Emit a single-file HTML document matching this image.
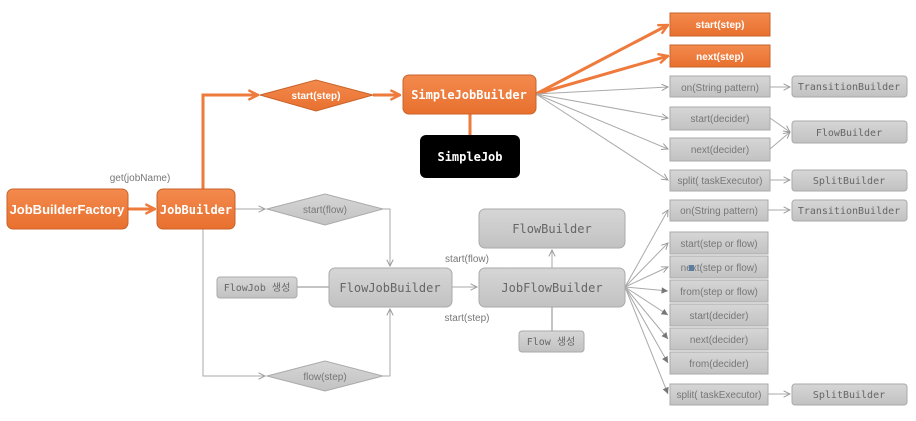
<!DOCTYPE html>
<html><head><meta charset="utf-8"><style>
body{margin:0;background:#fff;width:916px;height:416px;overflow:hidden}
text{font-family:"Liberation Sans","Noto Sans CJK KR",sans-serif}
.m{font-family:"DejaVu Sans Mono","Liberation Mono","Noto Sans CJK KR",monospace}
</style></head><body>
<svg width="916" height="416" viewBox="0 0 916 416" xmlns="http://www.w3.org/2000/svg">
<defs>
<linearGradient id="og" x1="0" y1="0" x2="0" y2="1"><stop offset="0" stop-color="#f38a4e"/><stop offset="1" stop-color="#e8702e"/></linearGradient>
<linearGradient id="gg" x1="0" y1="0" x2="0" y2="1"><stop offset="0" stop-color="#d6d6d6"/><stop offset="1" stop-color="#c2c2c2"/></linearGradient>
<marker id="oa" viewBox="0 0 10 10" refX="9" refY="5" markerWidth="4" markerHeight="4" orient="auto"><path d="M1,1L9,5L1,9" fill="none" stroke="#ee7a3c" stroke-width="2"/></marker>
<marker id="ga" viewBox="0 0 10 10" refX="9" refY="5" markerWidth="8" markerHeight="8" orient="auto" markerUnits="userSpaceOnUse"><path d="M1,1L9,5L1,9" fill="none" stroke="#999" stroke-width="1.2"/></marker>
<marker id="gf" viewBox="0 0 10 10" refX="9" refY="5" markerWidth="8" markerHeight="8" orient="auto" markerUnits="userSpaceOnUse"><path d="M1,1L9,5L1,9z" fill="#777"/></marker>
</defs>
<g stroke="#ee7a3c" stroke-width="3" fill="none">
<path d="M128,209H155" marker-end="url(#oa)"/>
<path d="M203,189V95H258" marker-end="url(#oa)"/>
<path d="M373,95H400" marker-end="url(#oa)"/>
<path d="M470,114V135"/>
<path d="M536,94L668,25" marker-end="url(#oa)"/>
<path d="M536,94L668,56" marker-end="url(#oa)"/>
</g>
<g stroke="#aaa" stroke-width="1" fill="none">
<path d="M536,94L668,87" marker-end="url(#ga)"/>
<path d="M536,94L668,118" marker-end="url(#ga)"/>
<path d="M536,94L668,149" marker-end="url(#ga)"/>
<path d="M536,94L668,180" marker-end="url(#ga)"/>
<path d="M770,87H790" marker-end="url(#ga)"/>
<path d="M770,118L790,132" marker-end="url(#ga)"/>
<path d="M770,149L790,132" marker-end="url(#ga)"/>
<path d="M770,180H790" marker-end="url(#ga)"/>
<path d="M235,209H265" marker-end="url(#ga)"/>
<path d="M383,209H390V266" marker-end="url(#ga)"/>
<path d="M203,229V376H265" marker-end="url(#ga)"/>
<path d="M383,376H390V309" marker-end="url(#ga)"/>
<path d="M297,287H329" stroke="#888"/>
<path d="M452,287H477" marker-end="url(#ga)"/>
<path d="M552,268V250" marker-end="url(#ga)"/>
<path d="M552,331V307" stroke="#888"/>
<path d="M625,287L668,210" marker-end="url(#ga)"/>
<path d="M625,287L668,243" marker-end="url(#ga)"/>
<path d="M625,287L668,267" marker-end="url(#ga)"/>
<path d="M625,287L668,291" marker-end="url(#gf)"/>
<path d="M625,287L668,315" marker-end="url(#gf)"/>
<path d="M625,287L668,339" marker-end="url(#gf)"/>
<path d="M625,287L668,363" marker-end="url(#gf)"/>
<path d="M625,287L668,394" marker-end="url(#gf)"/>
<path d="M768,210H790" marker-end="url(#ga)"/>
<path d="M768,394H790" marker-end="url(#ga)"/>
</g>
<!-- orange boxes -->
<g stroke="#c9632a" stroke-width="1" fill="url(#og)">
<rect x="7" y="189" width="121" height="40" rx="6"/>
<rect x="157" y="189" width="78" height="40" rx="6"/>
<rect x="403" y="75" width="133" height="39" rx="6"/>
<rect x="670" y="13" width="100" height="23"/>
<rect x="670" y="45" width="100" height="22"/>
<polygon points="260,95 316,80 373,95 316,111"/>
</g>
<rect x="420" y="135" width="100" height="43" rx="6" fill="#000"/>
<g fill="#fff" font-weight="bold" text-anchor="middle">
<text x="67" y="214" font-size="13">JobBuilderFactory</text>
<text x="196" y="214" font-size="12" class="m">JobBuilder</text>
<text x="469" y="99" font-size="12" class="m">SimpleJobBuilder</text>
<text x="470" y="161" font-size="12" class="m">SimpleJob</text>
<text x="316" y="99" font-size="10">start(step)</text>
<text x="720" y="28" font-size="10">start(step)</text>
<text x="720" y="60" font-size="10">next(step)</text>
</g>
<!-- gray -->
<g stroke="#aaa" stroke-width="1" fill="url(#gg)">
<polygon points="267,209 325,194 383,209 325,225"/>
<polygon points="267,376 325,361 383,376 325,391"/>
<rect x="217" y="277" width="80" height="21" rx="3"/>
<rect x="329" y="268" width="123" height="39" rx="6"/>
<rect x="479" y="268" width="146" height="39" rx="6"/>
<rect x="479" y="209" width="146" height="39" rx="6"/>
<rect x="519" y="331" width="65" height="21" rx="3"/>
<rect x="670" y="76" width="100" height="21"/>
<rect x="670" y="107" width="100" height="23"/>
<rect x="670" y="138" width="100" height="23"/>
<rect x="670" y="170" width="100" height="21"/>
<rect x="792" y="76" width="115" height="21" rx="3"/>
<rect x="792" y="121" width="115" height="22" rx="3"/>
<rect x="792" y="170" width="115" height="21" rx="3"/>
<rect x="670" y="200" width="98" height="21"/>
<rect x="670" y="232" width="98" height="22"/>
<rect x="670" y="256" width="98" height="22"/>
<rect x="670" y="280" width="98" height="22"/>
<rect x="670" y="304" width="98" height="22"/>
<rect x="670" y="328" width="98" height="22"/>
<rect x="670" y="352" width="98" height="22"/>
<rect x="670" y="384" width="98" height="21"/>
<rect x="792" y="200" width="115" height="21" rx="3"/>
<rect x="792" y="384" width="115" height="21" rx="3"/>
</g>
<g fill="#777" text-anchor="middle" font-size="10">
<text x="140" y="181">get(jobName)</text>
<text x="325" y="213">start(flow)</text>
<text x="325" y="380">flow(step)</text>
<text x="467" y="262">start(flow)</text>
<text x="467" y="321">start(step)</text>
<text x="720" y="91">on(String pattern)</text>
<text x="720" y="122">start(decider)</text>
<text x="720" y="153">next(decider)</text>
<text x="720" y="184">split( taskExecutor)</text>
<text x="719" y="214">on(String pattern)</text>
<text x="719" y="247">start(step or flow)</text>
<text x="719" y="271">next(step or flow)</text>
<text x="719" y="295">from(step or flow)</text>
<text x="719" y="319">start(decider)</text>
<text x="719" y="343">next(decider)</text>
<text x="719" y="367">from(decider)</text>
<text x="719" y="398">split( taskExecutor)</text>
</g>
<g fill="#666" text-anchor="middle" class="m" font-size="10">
<text x="849" y="90" class="m">TransitionBuilder</text>
<text x="849" y="136" class="m">FlowBuilder</text>
<text x="849" y="184" class="m">SplitBuilder</text>
<text x="849" y="214" class="m">TransitionBuilder</text>
<text x="849" y="398" class="m">SplitBuilder</text>
<text x="257" y="291" class="m">FlowJob 생성</text>
<text x="551" y="345" class="m">Flow 생성</text>
<text x="390" y="292" class="m" font-size="12">FlowJobBuilder</text>
<text x="552" y="292" class="m" font-size="12">JobFlowBuilder</text>
<text x="552" y="233" class="m" font-size="12">FlowBuilder</text>
</g>
<rect x="689" y="265" width="5" height="6" fill="#5a7ea0"/>
</svg>
</body></html>
